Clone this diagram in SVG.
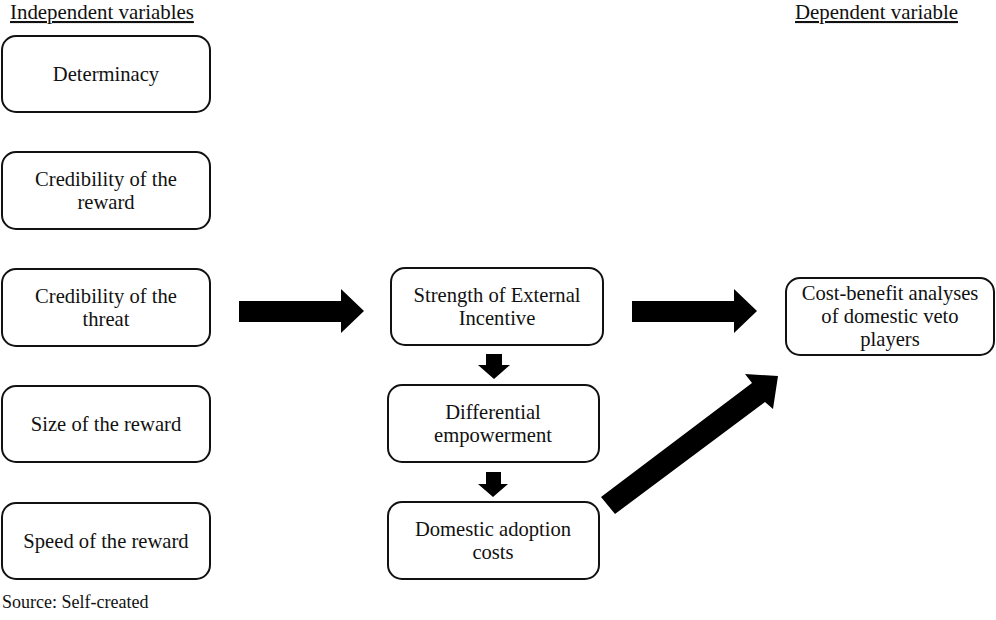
<svg xmlns="http://www.w3.org/2000/svg" width="996" height="620" viewBox="0 0 996 620" font-family="'Liberation Serif', 'DejaVu Serif', 'Times New Roman', Times, serif">
<style>
  .box { fill: #ffffff; stroke: #111111; stroke-width: 2; }
  .t { font-family: 'Liberation Serif', 'DejaVu Serif', 'Times New Roman', Times, serif; font-size: 20.6px; fill: #111111; text-anchor: middle; }
  .h { font-family: 'Liberation Serif', 'DejaVu Serif', 'Times New Roman', Times, serif; font-size: 20.9px; fill: #111111; text-decoration: underline; }
  .src { font-family: 'Liberation Serif', 'DejaVu Serif', 'Times New Roman', Times, serif; font-size: 18px; fill: #111111; }
  .arr { fill: #000000; }
</style>
<rect x="0" y="0" width="996" height="620" fill="#ffffff"/>
<text id="hdr-indep" class="h" x="10" y="19">Independent variables</text>
<text id="hdr-dep" class="h" x="795" y="19">Dependent variable</text>

<g id="n-determinacy">
  <rect class="box" x="2" y="36" width="208" height="76" rx="14"/>
  <text class="t" x="106" y="81">Determinacy</text>
</g>
<g id="n-cred-reward">
  <rect class="box" x="2" y="152" width="208" height="77" rx="14"/>
  <text class="t" x="106" y="186">Credibility of the</text>
  <text class="t" x="106" y="209">reward</text>
</g>
<g id="n-cred-threat">
  <rect class="box" x="2" y="269" width="208" height="77" rx="14"/>
  <text class="t" x="106" y="303">Credibility of the</text>
  <text class="t" x="106" y="326">threat</text>
</g>
<g id="n-size-reward">
  <rect class="box" x="2" y="386" width="208" height="76" rx="14"/>
  <text class="t" x="106" y="431">Size of the reward</text>
</g>
<g id="n-speed-reward">
  <rect class="box" x="2" y="503" width="208" height="76" rx="14"/>
  <text class="t" x="106" y="548">Speed of the reward</text>
</g>

<g id="n-strength">
  <rect class="box" x="391" y="268" width="212" height="77" rx="14"/>
  <text class="t" x="497" y="302">Strength of External</text>
  <text class="t" x="497" y="325">Incentive</text>
</g>
<g id="n-differential">
  <rect class="box" x="388" y="385" width="211" height="77" rx="14"/>
  <text class="t" x="493" y="419">Differential</text>
  <text class="t" x="493" y="442">empowerment</text>
</g>
<g id="n-domestic">
  <rect class="box" x="388" y="502" width="211" height="77" rx="14"/>
  <text class="t" x="493" y="536">Domestic adoption</text>
  <text class="t" x="493" y="559">costs</text>
</g>
<g id="n-costbenefit">
  <rect class="box" x="786" y="278" width="208" height="77" rx="14"/>
  <text class="t" x="890" y="300">Cost-benefit analyses</text>
  <text class="t" x="890" y="323">of domestic veto</text>
  <text class="t" x="890" y="346">players</text>
</g>

<g id="connectors">
  <polygon class="arr" points="239,301 341,301 341,289 364,311 341,333 341,322 239,322"/>
  <polygon class="arr" points="632,301 734,301 734,289 757,311 734,333 734,322 632,322"/>
  <polygon class="arr" points="486,354 502,354 502,365 510,365 494,379 478,365 486,365"/>
  <polygon class="arr" points="486,472 501,472 501,484 508,484 493,497 478,484 486,484"/>
  <polygon class="arr" points="601,497 752,383 745,374 778,376 773,409 765,402 615,514"/>
</g>

<text id="source" class="src" x="2" y="608">Source: Self-created</text>
</svg>
